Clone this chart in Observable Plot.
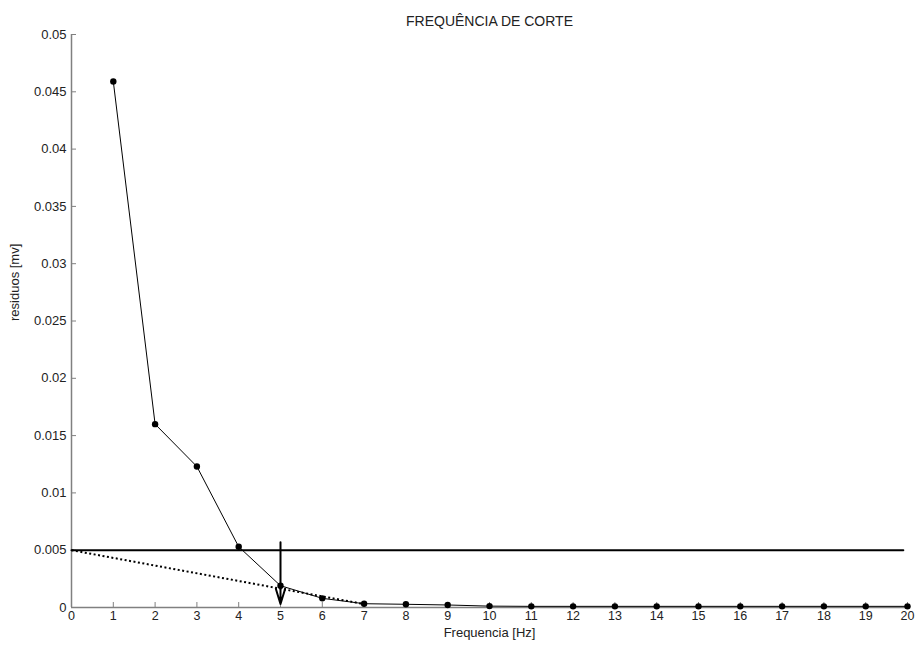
<!DOCTYPE html>
<html>
<head>
<meta charset="utf-8">
<script src="https://cdn.jsdelivr.net/npm/d3@7"></script>
<script src="https://cdn.jsdelivr.net/npm/@observablehq/plot@0.6"></script>
<style>
  html, body { margin: 0; padding: 0; background: #fff; }
  #chart svg { display: block; }
</style>
</head>
<body>
<div id="chart"></div>
<script>
// Data
const freq = [1,2,3,4,5,6,7,8,9,10,11,12,13,14,15,16,17,18,19,20];
const residuos = [0.0459,0.0160,0.0123,0.0053,0.0019,0.0008,0.00033,0.00028,0.00022,0.00012,0.0001,0.0001,0.0001,0.0001,0.0001,0.0001,0.0001,0.0001,0.0001,0.0001];
const thresholdX = [0, 19.9];
const thresholdY = [0.005, 0.005];
const dottedX = [0, 7];
const dottedY = [0.005, 0.0003];
const cutoffX = 5;
const cutoffY1 = 0.0057;
const cutoffY2 = 0.0003;
const xTicks = [0,1,2,3,4,5,6,7,8,9,10,11,12,13,14,15,16,17,18,19,20];
const yTicks = [0,0.005,0.01,0.015,0.02,0.025,0.03,0.035,0.04,0.045,0.05];
const yTickLabels = ["0","0.005","0.01","0.015","0.02","0.025","0.03","0.035","0.04","0.045","0.05"];
const titleText = "FREQUÊNCIA DE CORTE";
const xLabel = "Frequencia [Hz]";
const yLabel = "residuos [mv]";

const points = freq.map((f, i) => ({f, r: residuos[i]}));
const threshold = thresholdX.map((x, i) => ({x, y: thresholdY[i]}));
const dotted = dottedX.map((x, i) => ({x, y: dottedY[i]}));

const axisGray = "#808080";
const textColor = "#222";
const W = 915, H = 645, mL = 71, mR = 8, mT = 34, mB = 38;
const tickLen = 5;

const chart = Plot.plot({
  width: W,
  height: H,
  marginLeft: mL,
  marginRight: mR,
  marginTop: mT,
  marginBottom: mB,
  style: {fontFamily: "'Liberation Sans', Arial, sans-serif", fontSize: "12px", color: textColor, background: "#fff"},
  x: {domain: [0, 20], label: null},
  y: {domain: [0, 0.05], label: null},
  marks: [
    // axis lines
    Plot.ruleX([0], {stroke: axisGray, strokeWidth: 1.5}),
    Plot.ruleY([0], {stroke: axisGray, strokeWidth: 1.5}),
    // inward ticks
    Plot.tickX(xTicks, {x: d => d, insetTop: (H - mT - mB) - tickLen, stroke: axisGray, strokeWidth: 1}),
    Plot.tickY(yTicks, {y: d => d, insetRight: (W - mL - mR) - tickLen, stroke: axisGray, strokeWidth: 1}),
    // tick labels
    Plot.axisX({ticks: xTicks, tickSize: 0, tickPadding: 4, tickFormat: d => String(d), fontSize: 12.5, fill: textColor, label: null}),
    Plot.axisY({ticks: yTicks, tickSize: 0, tickPadding: 5, tickFormat: (d, i) => yTickLabels[i], fontSize: 13, fill: textColor, label: null}),
    // threshold line
    Plot.line(threshold, {x: "x", y: "y", stroke: "#000", strokeWidth: 2}),
    // dotted line
    Plot.line(dotted, {x: "x", y: "y", stroke: "#000", strokeWidth: 2, strokeDasharray: "2,2.5", strokeLinecap: "butt"}),
    // data
    Plot.line(points, {x: "f", y: "r", stroke: "#000", strokeWidth: 1}),
    Plot.dot(points, {x: "f", y: "r", r: 3.2, fill: "#000", stroke: "none"}),
    // cutoff arrow
    Plot.arrow([{x: cutoffX, y1: cutoffY1, y2: cutoffY2}], {x: "x", y1: "y1", y2: "y2", stroke: "#000", strokeWidth: 2, headLength: 12, headAngle: 34}),
    // texts
    Plot.text([titleText], {frameAnchor: "top", dy: -18, fontSize: 14, fill: textColor}),
    Plot.text([xLabel], {frameAnchor: "bottom", dy: 29, fontSize: 13, fill: textColor}),
    Plot.text([yLabel], {frameAnchor: "left", dx: -57, rotate: -90, fontSize: 13, fill: textColor})
  ]
});
document.getElementById("chart").appendChild(chart);
</script>
</body>
</html>
